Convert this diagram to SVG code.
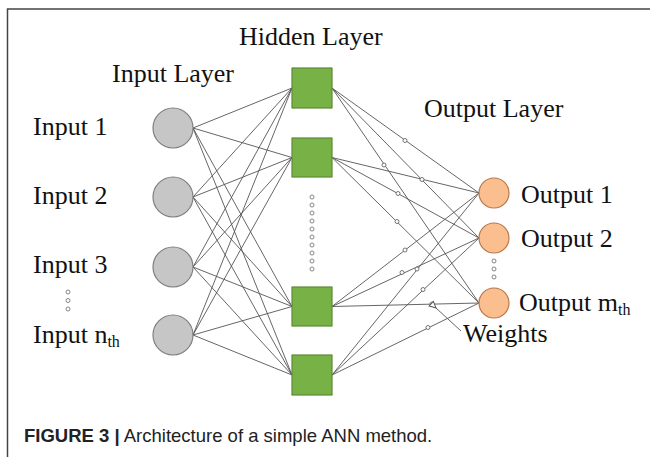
<svg xmlns="http://www.w3.org/2000/svg" width="650" height="457" viewBox="0 0 650 457">
<style>
.t{font-family:"Liberation Serif","Times New Roman",serif;font-size:26px;fill:#111}
.s{font-size:16px}
.cap{font-family:"Liberation Sans",Arial,sans-serif;font-size:18.5px;fill:#222}
.in{fill:#c6c6c6;stroke:#7f7f7f;stroke-width:1.2}
.hid{fill:#78b145;stroke:#5b8a34;stroke-width:1.2}
.out{fill:#fbbf8f;stroke:#b9764a;stroke-width:1.2}
.e{stroke:#555;stroke-width:0.9;fill:none}
.w{fill:#fff;stroke:#666;stroke-width:0.9}
.d{fill:#fff;stroke:#777;stroke-width:0.9}
</style>
<defs>
<marker id="ah" viewBox="0 0 10 10" refX="1" refY="5" markerWidth="8" markerHeight="8" orient="auto-start-reverse" markerUnits="userSpaceOnUse">
<path d="M9,1 L1,5 L9,9 Z" fill="#fff" stroke="#555" stroke-width="1.2"/>
</marker>
</defs>
<rect x="0" y="0" width="650" height="457" fill="#fff"/>
<path d="M7.5,457 V9 H650" fill="none" stroke="#444" stroke-width="1.5"/>

<g id="connectors">
<g class="e">
<path d="M193,128 L292,88 M193,128 L292,157.5 M193,128 L292,306.5 M193,128 L292,375"/>
<path d="M193,197 L292,88 M193,197 L292,157.5 M193,197 L292,306.5 M193,197 L292,375"/>
<path d="M193,267 L292,88 M193,267 L292,157.5 M193,267 L292,306.5 M193,267 L292,375"/>
<path d="M193,335 L292,88 M193,335 L292,157.5 M193,335 L292,306.5 M193,335 L292,375"/>
<path d="M332,88 L479,193 M332,88 L479,238 M332,88 L479,303"/>
<path d="M332,157.5 L479,193 M332,157.5 L479,238 M332,157.5 L479,303"/>
<path d="M332,306.5 L479,193 M332,306.5 L479,238 M332,306.5 L479,303"/>
<path d="M332,375 L479,193 M332,375 L479,238 M332,375 L479,303"/>
</g>
<g id="weights" class="w">
<circle cx="405" cy="140.5" r="2"/>
<circle cx="384" cy="165" r="2"/>
<circle cx="422" cy="179.5" r="2"/>
<circle cx="398" cy="193.5" r="2"/>
<circle cx="397" cy="221.5" r="2"/>
<circle cx="405" cy="250" r="2"/>
<circle cx="402" cy="272.5" r="2"/>
<circle cx="417" cy="269" r="2"/>
<circle cx="423" cy="289.5" r="2"/>
<circle cx="432" cy="304" r="2"/>
<circle cx="428" cy="327.5" r="2"/>
</g>
<path d="M461,331 L436,308" class="e" marker-end="url(#ah)"/>
</g>

<g id="input-layer">
<text class="t" x="112" y="82">Input Layer</text>
<g id="in1"><circle class="in" cx="173" cy="128" r="20"/><text class="t" x="33" y="135">Input 1</text></g>
<g id="in2"><circle class="in" cx="173" cy="197" r="20"/><text class="t" x="33" y="204">Input 2</text></g>
<g id="in3"><circle class="in" cx="173" cy="267" r="20"/><text class="t" x="33" y="273">Input 3</text></g>
<g id="inn"><circle class="in" cx="173" cy="335" r="20"/><text class="t" x="33" y="343">Input n<tspan class="s" dy="4">th</tspan></text></g>
<g class="d"><circle cx="68" cy="292" r="2"/><circle cx="68" cy="300.5" r="2"/><circle cx="68" cy="309" r="2"/></g>
</g>

<g id="hidden-layer">
<text class="t" x="239" y="45">Hidden Layer</text>
<rect id="h1" class="hid" x="292" y="68" width="40" height="40"/>
<rect id="h2" class="hid" x="292" y="138" width="40" height="39"/>
<rect id="h3" class="hid" x="292" y="287" width="40" height="39"/>
<rect id="h4" class="hid" x="292" y="355" width="40" height="40"/>
<g class="d">
<circle cx="312" cy="197" r="2"/><circle cx="312" cy="205" r="2"/><circle cx="312" cy="213" r="2"/><circle cx="312" cy="221" r="2"/><circle cx="312" cy="229" r="2"/>
<circle cx="312" cy="237" r="2"/><circle cx="312" cy="245" r="2"/><circle cx="312" cy="253" r="2"/><circle cx="312" cy="261" r="2"/><circle cx="312" cy="269" r="2"/>
</g>
</g>

<g id="output-layer">
<text class="t" x="424" y="117">Output Layer</text>
<g id="o1"><circle class="out" cx="494" cy="193" r="15"/><text class="t" x="521" y="203">Output 1</text></g>
<g id="o2"><circle class="out" cx="494" cy="238" r="15"/><text class="t" x="521" y="247">Output 2</text></g>
<g id="om"><circle class="out" cx="494" cy="303" r="15"/><text class="t" x="519" y="311">Output m<tspan class="s" dy="4">th</tspan></text></g>
<g class="d"><circle cx="494" cy="261" r="2"/><circle cx="494" cy="269" r="2"/><circle cx="494" cy="277" r="2"/></g>
</g>

<text class="t" x="463" y="342">Weights</text>

<text class="cap" x="24" y="442"><tspan font-weight="bold">FIGURE 3 |</tspan> Architecture of a simple ANN method.</text>
</svg>
